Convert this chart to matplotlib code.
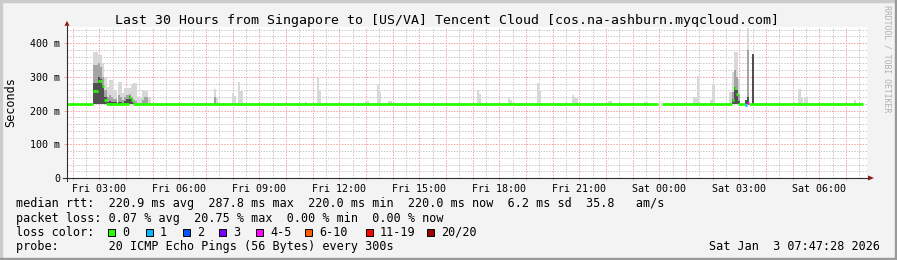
import numpy as np
import matplotlib.pyplot as plt
from matplotlib.patches import Rectangle

plt.rcParams['font.family'] = 'DejaVu Sans Mono'

W, H = 897, 260

# time axis in hours since Fri 00:00, graph ends Sat 07:47:28 and spans 30 h
t_end = 31 + 47 / 60 + 28 / 3600
t_start = t_end - 30
step = 300 / 3600  # one probe round every 300 s
ymax = 447

title = "Last 30 Hours from Singapore to [US/VA] Tencent Cloud [cos.na-ashburn.myqcloud.com]"

# x tick labels every 3 hours
xtick_pos = [3, 6, 9, 12, 15, 18, 21, 24, 27, 30]
xtick_lab = ["Fri 03:00", "Fri 06:00", "Fri 09:00", "Fri 12:00", "Fri 15:00",
             "Fri 18:00", "Fri 21:00", "Sat 00:00", "Sat 03:00", "Sat 06:00"]
ytick_pos = [0, 100, 200, 300, 400]
ytick_lab = ["0", "100 m", "200 m", "300 m", "400 m"]

# median rtt (ms) at 0 loss, flat runs (start h, end h)
base_rtt = 220
base_runs = [(t_start, 2.777), (3.27, 4.10), (4.26, 23.95), (24.10, 26.717),
             (26.96, 27.21), (27.38, 31.63)]

# samples where the median left the base
med_t = [2.777, 2.86, 2.94, 3.025, 3.11, 3.19, 4.10, 4.18,
         26.717, 26.80, 26.88, 27.21, 27.30]
med_rtt = [259, 259, 288, 288, 273, 231, 240, 231,
           231, 266, 249, 218, 222]
med_loss = [0, 0, 0, 0, 0, 0, 0, 0, 0, 0, 0, 1, 4]

# smoke per sample: max ping, upper spread, dense core (ms)
smoke_t = [2.777, 2.86, 2.94, 3.025, 3.11, 3.19, 3.27, 3.35, 3.44, 3.52, 3.60,
           3.69, 3.77, 3.85, 3.93, 4.02, 4.10, 4.18, 4.26, 4.35, 4.43, 4.51,
           4.59, 4.67, 4.76, 4.84,
           7.30, 7.38, 7.97, 8.05, 8.20, 8.29, 10.72, 11.16, 11.24, 12.97, 13.05,
           13.42, 13.50, 13.83, 13.91, 17.16, 17.24, 18.32, 18.40, 19.40, 19.47,
           20.72, 20.80, 20.88, 22.08, 22.16, 23.43, 23.51, 25.27, 25.35, 25.42,
           25.90, 25.99,
           26.63, 26.717, 26.80, 26.88, 26.96, 27.21, 27.30, 27.47,
           29.22, 29.30, 29.43, 29.51, 31.30]
smoke_max = [374, 374, 364, 364, 340, 300, 270, 290, 290, 261, 261,
             285, 285, 252, 266, 266, 266, 275, 282, 282, 237, 237,
             261, 259, 259, 240,
             264, 241, 253, 243, 285, 259, 226, 297, 261, 229, 229,
             276, 256, 229, 229, 261, 249, 236, 232, 282, 259,
             246, 236, 236, 229, 229, 226, 226, 241, 241, 302,
             232, 276,
             256, 315, 374, 374, 293, 231, 446, 369,
             263, 238, 238, 238, 231]
smoke_mid = [335, 335, 340, 330, 300, 260, 240, 245, 240, 235, 235,
             245, 240, 232, 240, 245, 250, 240, 230, 228, 220, 220,
             230, 241, 241, 220,
             241, 220, 220, 220, 220, 220, 220, 220, 220, 220, 220,
             220, 220, 220, 220, 220, 220, 220, 220, 220, 220,
             220, 220, 220, 220, 220, 220, 220, 220, 220, 220,
             220, 220,
             220, 256, 320, 300, 250, 231, 379, 369,
             220, 220, 220, 220, 220]
smoke_core = [281, 281, 300, 295, 275, 240, 225, 228, 226, 224, 224,
              225, 224, 222, 228, 235, 242, 233, 222, 220, 220, 220,
              220, 220, 220, 220,
              220, 220, 220, 220, 220, 220, 220, 220, 220, 220, 220,
              220, 220, 220, 220, 220, 220, 220, 220, 220, 220,
              220, 220, 220, 220, 220, 220, 220, 220, 220, 220,
              220, 220,
              220, 235, 270, 260, 228, 231, 240, 369,
              220, 220, 220, 220, 220]

loss_labels = ["0", "1", "2", "3", "4-5", "6-10", "11-19", "20/20"]
loss_colors = ["#26ff00", "#00b8ff", "#0059ff", "#7e00ff", "#ff00ff",
               "#ff5e00", "#ff0000", "#a10000"]

stats_rtt = "median rtt:  220.9 ms avg  287.8 ms max  220.0 ms min  220.0 ms now  6.2 ms sd  35.8   am/s"
stats_loss = "packet loss: 0.07 % avg  20.75 % max  0.00 % min  0.00 % now"
probe_txt = "probe:       20 ICMP Echo Pings (56 Bytes) every 300s"
stamp = "Sat Jan  3 07:47:28 2026"


def fx(x):
    return x / W


def fy(y):
    return 1 - y / H


fig = plt.figure(figsize=(W / 100, H / 100), dpi=100, facecolor="#f3f3f3")
# 3d frame
fig.patches.append(Rectangle((0, 0), fx(2), 1, transform=fig.transFigure, color="#cbcbcb", zorder=0))
fig.patches.append(Rectangle((0, fy(2)), 1, 2 / H, transform=fig.transFigure, color="#cbcbcb", zorder=0))
fig.patches.append(Rectangle((fx(W - 2), 0), fx(2), 1, transform=fig.transFigure, color="#999999", zorder=0))
fig.patches.append(Rectangle((0, 0), 1, 2 / H, transform=fig.transFigure, color="#999999", zorder=0))

ax = fig.add_axes([fx(67), fy(178), fx(800), (178 - 27.3) / H])
ax.set_xlim(t_start, t_end)
ax.set_ylim(0, ymax)
ax.set_facecolor("white")
for s in ax.spines.values():
    s.set_visible(False)

px_x = 30 / 800  # hours per pixel
px_y = ymax / (178 - 27.3)  # ms per pixel

# grid (behind the smoke)
for y in range(20, ymax, 20):
    if y % 100:
        ax.axhline(y, color="#c8c8c8", lw=0.72, ls=(0, (1.4, 1.4)), zorder=1)
for y in range(100, ymax, 100):
    ax.axhline(y, color="#f4a0a0", lw=0.72, ls=(0, (1.4, 1.4)), zorder=1)
for x in np.arange(2.5, t_end, 1.0):
    ax.axvline(x, color="#c8c8c8", lw=0.72, ls=(0, (1.4, 1.4)), zorder=1)
for x in np.arange(2, t_end, 1.0):
    ax.axvline(x, color="#f4a0a0", lw=0.72, ls=(0, (1.4, 1.4)), zorder=1)

# smoke
st = np.array(smoke_t)
for vals, col in [(smoke_max, "#d8d8d8"), (smoke_mid, "#a4a4a4"), (smoke_core, "#505050")]:
    h = np.array(vals) - base_rtt
    ax.bar(st, h, bottom=base_rtt, width=step, align="edge", color=col, lw=0, zorder=2)

# median line
ax.hlines([base_rtt] * len(base_runs), [r[0] for r in base_runs], [r[1] for r in base_runs],
          colors=loss_colors[0], lw=2, zorder=4, capstyle="butt")
mt = np.array(med_t)
ax.hlines(med_rtt, mt, mt + step, colors=[loss_colors[i] for i in med_loss],
          lw=2, zorder=4, capstyle="butt")

# axes with arrows
axis_col = "#303030"
arrow_col = "#8b1a1a"
ax.plot([t_start - 4 * px_x, t_end + px_x], [0, 0], color=axis_col, lw=0.8, clip_on=False, zorder=5)
ax.plot([t_start, t_start], [-3 * px_y, ymax + 1.5 * px_y], color=axis_col, lw=0.8, clip_on=False, zorder=5)
ax.fill([t_end + 1 * px_x, t_end + 1 * px_x, t_end + 7 * px_x],
        [-2.5 * px_y, 2.5 * px_y, 0], color=arrow_col, lw=0, clip_on=False, zorder=6)
ax.fill([t_start - 2.5 * px_x, t_start + 2.5 * px_x, t_start],
        [ymax + 1.5 * px_y, ymax + 1.5 * px_y, ymax + 6.5 * px_y], color=arrow_col, lw=0, clip_on=False, zorder=6)

# ticks
hours = np.arange(2, t_end, 1.0)
ax.set_xticks(hours)
ax.set_xticklabels([xtick_lab[xtick_pos.index(h)] if h in xtick_pos else "" for h in hours])
ax.set_yticks(ytick_pos)
ax.set_yticklabels(ytick_lab)
ax.tick_params(axis="x", length=1.5, width=0.7, color="#f4a0a0", pad=2.5, labelsize=7.2)
ax.tick_params(axis="y", length=2.2, width=0.7, color="#f4a0a0", pad=2.8, labelsize=7.2)

# texts
fig.text(fx(447), fy(24), title, ha="center", va="baseline", fontsize=9.5)
fig.text(fx(10.7), fy(102.5), "Seconds", rotation=90, ha="center", va="center", fontsize=8.5)
fig.text(fx(886.7), fy(59), "RRDTOOL / TOBI OETIKER", rotation=270, ha="center", va="center",
         fontsize=5.9, color="#b0b0b0")
fig.text(fx(16), fy(207.5), stats_rtt, ha="left", va="baseline", fontsize=8.5)
fig.text(fx(16), fy(221.7), stats_loss, ha="left", va="baseline", fontsize=8.5)
fig.text(fx(16), fy(235.9), "loss color:", ha="left", va="baseline", fontsize=8.5)
fig.text(fx(16), fy(250.1), probe_txt, ha="left", va="baseline", fontsize=8.5)
fig.text(fx(880), fy(250.1), stamp, ha="right", va="baseline", fontsize=8.5)

box_x = [108, 146, 183, 219, 256, 305, 366, 427]
for bx, lab, col in zip(box_x, loss_labels, loss_colors):
    fig.patches.append(Rectangle((fx(bx), fy(236)), fx(7), 7 / H, transform=fig.transFigure,
                                 facecolor=col, edgecolor="black", lw=0.7))
    fig.text(fx(bx + 14), fy(235.9), lab, ha="left", va="baseline", fontsize=8.5)

fig.savefig("out.png", dpi=100, facecolor=fig.get_facecolor())
